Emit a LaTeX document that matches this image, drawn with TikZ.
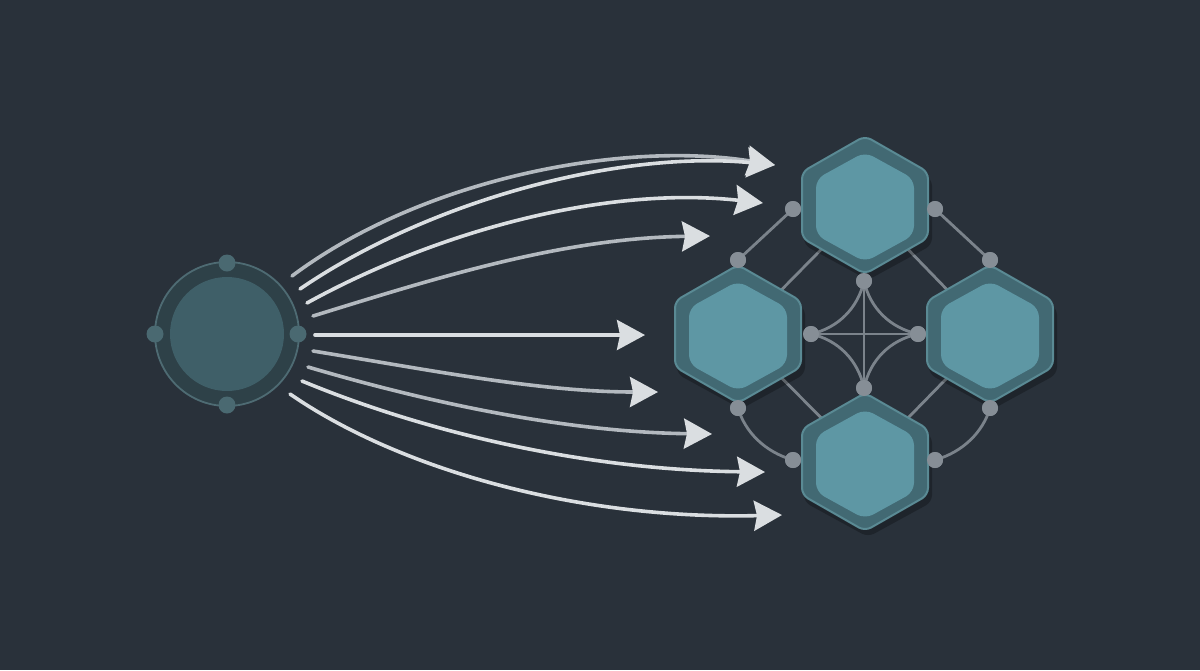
\documentclass[tikz,border=0pt]{standalone}
\usetikzlibrary{arrows.meta}
\definecolor{bg}{HTML}{29313A}
\definecolor{ringfill}{HTML}{2E4148}
\definecolor{ringline}{HTML}{4E6B73}
\definecolor{corefill}{HTML}{3F5F68}
\definecolor{coredot}{HTML}{4A6971}
\definecolor{arrowc}{HTML}{DADEE1}
\definecolor{arrowg}{HTML}{B3B9BF}
\definecolor{hexout}{HTML}{426973}
\definecolor{hexedge}{HTML}{5A8A94}
\definecolor{hexin}{HTML}{5E97A4}
\definecolor{netc}{HTML}{7B838B}
\definecolor{netdot}{HTML}{868E96}
\begin{document}
\begin{tikzpicture}[x=1pt,y=-1pt,
  flow/.style={draw=arrowc, line width=3.6pt, line cap=round,
    -{Stealth[length=28pt,width=30pt,inset=3pt,color=arrowc]}},
  flowg/.style={flow, draw=arrowg},
  net/.style={draw=netc, line width=2.8pt},
  netdotst/.style={circle, fill=netdot, minimum size=16pt, inner sep=0pt},
  srcdot/.style={circle, fill=coredot, minimum size=17pt, inner sep=0pt},
  hexa/.pic={
    \fill[black, opacity=0.25, rounded corners=7pt] (3,-63) -- (67,-26) -- (67,40) -- (3,75) -- (-61,40) -- (-61,-26) -- cycle;
    \filldraw[fill=hexout, draw=hexedge, line width=2pt, rounded corners=7pt] (0,-69) -- (63,-33) -- (63,33) -- (0,69) -- (-63,33) -- (-63,-33) -- cycle;
    \fill[hexin, rounded corners=9pt] (0,-53) -- (49,-26) -- (49,30) -- (0,57) -- (-49,30) -- (-49,-26) -- cycle;
  }]
\fill[bg] (0,0) rectangle (1200,670);
\useasboundingbox (0,0) rectangle (1200,670);

% source circle
\coordinate (src) at (227,334);
\fill[ringfill] (src) circle (72);
\draw[ringline, line width=1.8pt] (src) circle (72);
\fill[corefill] (src) circle (57);
\node[srcdot] (c1) at (227,263) {};
\node[srcdot] (c2) at (227,405) {};
\node[srcdot] (c3) at (155,334) {};
\node[srcdot] (c4) at (298,334) {};

% arrow ends
\coordinate (s1) at (292,276);
\coordinate (s2) at (300,289);
\coordinate (s3) at (307,303);
\coordinate (s4) at (313,316);
\coordinate (s5) at (315,335);
\coordinate (s6) at (313,351);
\coordinate (s7) at (308,367);
\coordinate (s8) at (302,381);
\coordinate (s9) at (290,394);
\coordinate (e1) at (775,165);
\coordinate (e3) at (763,203);
\coordinate (e4) at (710,236);
\coordinate (e5) at (645,335);
\coordinate (e6) at (658,392);
\coordinate (e7) at (712,434);
\coordinate (e8) at (765,472);
\coordinate (e9) at (782,515);

\draw[flowg] (s1) .. controls (420,180) and (620,140) .. (e1);
\draw[flow] (s2) .. controls (430,200) and (620,150) .. (e1);
\draw[flow] (s3) .. controls (430,235) and (600,185) .. (e3);
\draw[flowg] (s4) .. controls (430,280) and (560,238) .. (e4);
\draw[flow] (s5) -- (e5);
\draw[flowg] (s6) .. controls (430,370) and (540,392) .. (e6);
\draw[flowg] (s7) .. controls (420,400) and (560,432) .. (e7);
\draw[flow] (s8) .. controls (420,430) and (580,470) .. (e8);
\draw[flow] (s9) .. controls (400,470) and (580,520) .. (e9);

% network
\coordinate (T) at (865,205);
\coordinate (L) at (738,334);
\coordinate (R) at (990,334);
\coordinate (B) at (865,462);
\draw[net] (T) -- (L);
\draw[net] (T) -- (R);
\draw[net] (L) -- (B);
\draw[net] (R) -- (B);

\node[netdotst] (d1) at (793,209) {};
\node[netdotst] (d2) at (935,209) {};
\node[netdotst] (d3) at (738,260) {};
\node[netdotst] (d4) at (990,260) {};
\node[netdotst] (d5) at (864,281) {};
\node[netdotst] (d6) at (811,334) {};
\node[netdotst] (d7) at (918,334) {};
\node[netdotst] (d8) at (864,388) {};
\node[netdotst] (d9) at (738,408) {};
\node[netdotst] (d10) at (990,408) {};
\node[netdotst] (d11) at (793,460) {};
\node[netdotst] (d12) at (935,460) {};

\draw[net] (d3.center) -- (d1.center);
\draw[net] (d2.center) -- (d4.center);
\draw[net] (d9.center) .. controls (745,432) and (765,452) .. (d11.center);
\draw[net] (d10.center) .. controls (983,432) and (963,452) .. (d12.center);
\draw[net] (d6.center) -- (d7.center);
\draw[net] (d5.center) -- (d8.center);
\draw[net] (d5.center) .. controls (858,308) and (838,328) .. (d6.center);
\draw[net] (d5.center) .. controls (870,308) and (890,328) .. (d7.center);
\draw[net] (d8.center) .. controls (858,360) and (838,340) .. (d6.center);
\draw[net] (d8.center) .. controls (870,360) and (890,340) .. (d7.center);

\pic at (T) {hexa};
\pic at (L) {hexa};
\pic at (R) {hexa};
\pic at (B) {hexa};

% dots on top
\foreach \d in {d1,d2,d3,d4,d5,d6,d7,d8,d9,d10,d11,d12}
  \fill[netdot] (\d) circle (8);
\end{tikzpicture}
\end{document}
